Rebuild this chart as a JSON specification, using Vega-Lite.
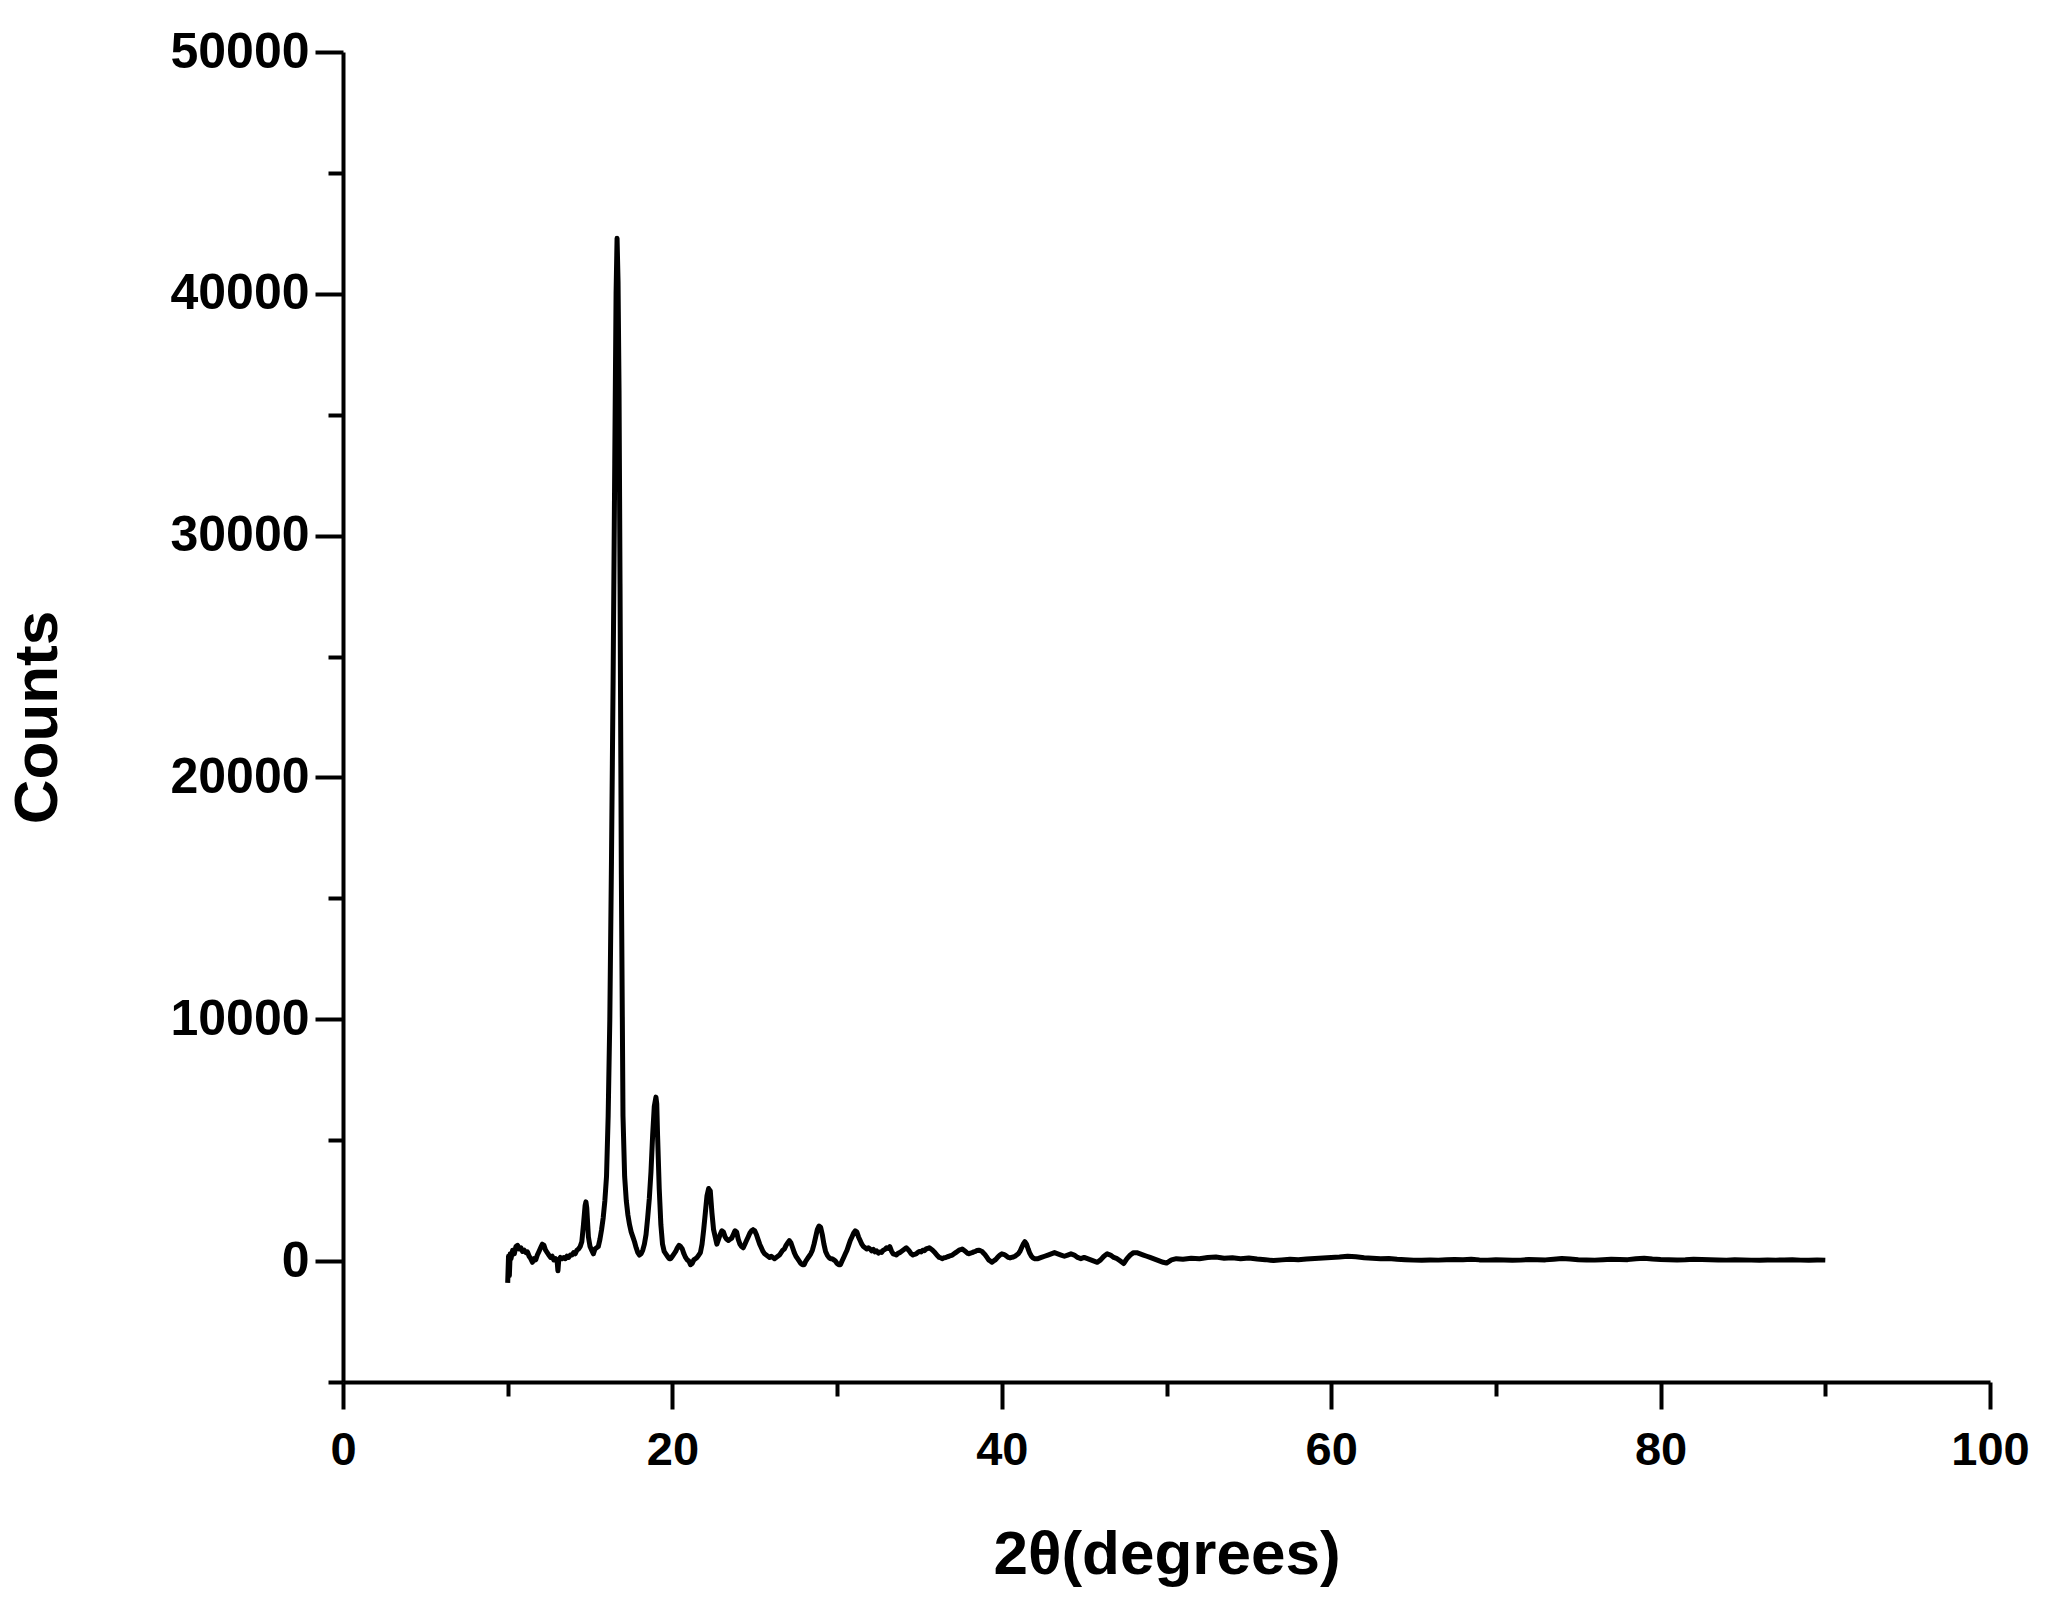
{
  "$schema": "https://vega.github.io/schema/vega-lite/v6.json",
  "autosize": "none",
  "width": 1647,
  "height": 1330,
  "padding": {"left": 343, "top": 52, "right": 61, "bottom": 217},
  "background": "white",
  "config": {"view": {"stroke": null}},
  "data": {"values": [
    {"t":10.0,"c":-900},{"t":10.05,"c":200},{"t":10.1,"c":-600},{"t":10.15,"c":300},{"t":10.2,"c":100},{"t":10.3,"c":450},{"t":10.4,"c":300},{"t":10.5,"c":600},{"t":10.6,"c":650},{"t":10.7,"c":500},{"t":10.8,"c":550},{"t":10.9,"c":400},
    {"t":11.0,"c":450},{"t":11.1,"c":350},{"t":11.2,"c":380},{"t":11.3,"c":200},{"t":11.4,"c":100},{"t":11.5,"c":-50},{"t":11.6,"c":100},{"t":11.7,"c":50},{"t":11.8,"c":250},{"t":11.9,"c":400},
    {"t":12.0,"c":550},{"t":12.1,"c":700},{"t":12.2,"c":650},{"t":12.3,"c":450},{"t":12.4,"c":350},{"t":12.5,"c":250},{"t":12.6,"c":150},{"t":12.7,"c":200},{"t":12.8,"c":50},{"t":12.9,"c":100},
    {"t":13.0,"c":0},{"t":13.05,"c":-400},{"t":13.1,"c":50},{"t":13.2,"c":150},{"t":13.3,"c":100},{"t":13.4,"c":150},{"t":13.5,"c":100},{"t":13.6,"c":200},{"t":13.7,"c":150},{"t":13.8,"c":250},{"t":13.9,"c":250},
    {"t":14.0,"c":350},{"t":14.1,"c":300},{"t":14.2,"c":450},{"t":14.3,"c":500},{"t":14.4,"c":600},{"t":14.5,"c":800},{"t":14.6,"c":1500},{"t":14.7,"c":2300},{"t":14.75,"c":2450},{"t":14.8,"c":2200},{"t":14.9,"c":1000},
    {"t":15.0,"c":600},{"t":15.1,"c":450},{"t":15.2,"c":300},{"t":15.3,"c":500},{"t":15.4,"c":550},{"t":15.5,"c":600},{"t":15.6,"c":900},{"t":15.7,"c":1300},{"t":15.8,"c":1800},{"t":15.9,"c":2500},
    {"t":16.0,"c":3500},{"t":16.1,"c":6000},{"t":16.2,"c":10000},{"t":16.3,"c":16500},{"t":16.4,"c":24000},{"t":16.5,"c":33000},{"t":16.58,"c":40000},{"t":16.64,"c":42300},{"t":16.7,"c":40500},{"t":16.76,"c":36000},{"t":16.82,"c":28000},{"t":16.9,"c":16000},
    {"t":17.0,"c":6000},{"t":17.1,"c":3500},{"t":17.2,"c":2500},{"t":17.3,"c":1900},{"t":17.4,"c":1500},{"t":17.5,"c":1200},{"t":17.6,"c":1000},{"t":17.7,"c":800},{"t":17.8,"c":550},{"t":17.9,"c":350},
    {"t":18.0,"c":250},{"t":18.1,"c":300},{"t":18.2,"c":450},{"t":18.3,"c":700},{"t":18.4,"c":1100},{"t":18.5,"c":1800},{"t":18.6,"c":2600},{"t":18.7,"c":3700},{"t":18.8,"c":5200},{"t":18.9,"c":6400},
    {"t":19.0,"c":6780},{"t":19.05,"c":6500},{"t":19.1,"c":5200},{"t":19.2,"c":3000},{"t":19.3,"c":1500},{"t":19.4,"c":700},{"t":19.5,"c":400},{"t":19.6,"c":300},{"t":19.7,"c":200},{"t":19.8,"c":100},{"t":19.9,"c":100},
    {"t":20.0,"c":200},{"t":20.1,"c":300},{"t":20.2,"c":400},{"t":20.3,"c":550},{"t":20.4,"c":650},{"t":20.5,"c":600},{"t":20.6,"c":500},{"t":20.7,"c":300},{"t":20.8,"c":150},{"t":20.9,"c":50},
    {"t":21.0,"c":0},{"t":21.1,"c":-150},{"t":21.2,"c":-100},{"t":21.3,"c":50},{"t":21.4,"c":100},{"t":21.5,"c":150},{"t":21.6,"c":250},{"t":21.7,"c":350},{"t":21.8,"c":700},{"t":21.9,"c":1300},
    {"t":22.0,"c":2000},{"t":22.1,"c":2700},{"t":22.2,"c":3000},{"t":22.3,"c":2900},{"t":22.4,"c":2000},{"t":22.5,"c":1300},{"t":22.6,"c":1000},{"t":22.7,"c":700},{"t":22.8,"c":900},{"t":22.9,"c":1100},
    {"t":23.0,"c":1250},{"t":23.1,"c":1200},{"t":23.2,"c":1000},{"t":23.3,"c":900},{"t":23.4,"c":850},{"t":23.5,"c":900},{"t":23.6,"c":950},{"t":23.7,"c":1100},{"t":23.8,"c":1250},{"t":23.9,"c":1200},
    {"t":24.0,"c":900},{"t":24.1,"c":700},{"t":24.2,"c":600},{"t":24.3,"c":550},{"t":24.4,"c":700},{"t":24.5,"c":850},{"t":24.6,"c":1000},{"t":24.7,"c":1150},{"t":24.8,"c":1250},{"t":24.9,"c":1300},
    {"t":25.0,"c":1250},{"t":25.1,"c":1100},{"t":25.2,"c":900},{"t":25.3,"c":700},{"t":25.4,"c":550},{"t":25.5,"c":400},{"t":25.6,"c":300},{"t":25.7,"c":250},{"t":25.8,"c":200},{"t":25.9,"c":150},
    {"t":26.0,"c":200},{"t":26.1,"c":150},{"t":26.2,"c":100},{"t":26.3,"c":150},{"t":26.4,"c":200},{"t":26.5,"c":250},{"t":26.6,"c":350},{"t":26.7,"c":450},{"t":26.8,"c":500},{"t":26.9,"c":650},
    {"t":27.0,"c":750},{"t":27.1,"c":850},{"t":27.2,"c":750},{"t":27.3,"c":550},{"t":27.4,"c":350},{"t":27.5,"c":200},{"t":27.6,"c":100},{"t":27.7,"c":0},{"t":27.8,"c":-100},{"t":27.9,"c":-150},
    {"t":28.0,"c":-150},{"t":28.1,"c":0},{"t":28.2,"c":100},{"t":28.3,"c":200},{"t":28.4,"c":300},{"t":28.5,"c":450},{"t":28.6,"c":700},{"t":28.7,"c":1000},{"t":28.8,"c":1300},{"t":28.9,"c":1450},
    {"t":29.0,"c":1400},{"t":29.1,"c":1100},{"t":29.2,"c":700},{"t":29.3,"c":400},{"t":29.4,"c":250},{"t":29.5,"c":150},{"t":29.6,"c":100},{"t":29.7,"c":100},{"t":29.8,"c":50},{"t":29.9,"c":0},
    {"t":30.0,"c":-100},{"t":30.1,"c":-150},{"t":30.2,"c":-150},{"t":30.3,"c":0},{"t":30.4,"c":150},{"t":30.5,"c":300},{"t":30.6,"c":450},{"t":30.7,"c":650},{"t":30.8,"c":850},{"t":30.9,"c":1000},
    {"t":31.0,"c":1150},{"t":31.1,"c":1250},{"t":31.2,"c":1200},{"t":31.3,"c":1000},{"t":31.4,"c":850},{"t":31.5,"c":700},{"t":31.6,"c":600},{"t":31.7,"c":550},{"t":31.8,"c":500},{"t":31.9,"c":550},
    {"t":32.0,"c":500},{"t":32.1,"c":420},{"t":32.2,"c":480},{"t":32.3,"c":380},{"t":32.4,"c":420},{"t":32.5,"c":330},{"t":32.6,"c":380},{"t":32.7,"c":360},{"t":32.8,"c":450},{"t":32.9,"c":480},{"t":33.0,"c":550},{"t":33.1,"c":520},{"t":33.2,"c":600},{"t":33.3,"c":420},{"t":33.4,"c":300},{"t":33.5,"c":280},{"t":33.6,"c":250},{"t":33.7,"c":320},{"t":33.8,"c":350},{"t":33.9,"c":400},
    {"t":34.0,"c":450},{"t":34.1,"c":500},{"t":34.2,"c":550},{"t":34.3,"c":480},{"t":34.4,"c":400},{"t":34.5,"c":300},{"t":34.6,"c":250},{"t":34.7,"c":280},{"t":34.8,"c":300},{"t":34.9,"c":360},{"t":35.0,"c":400},{"t":35.1,"c":380},{"t":35.2,"c":450},{"t":35.3,"c":430},{"t":35.4,"c":500},{"t":35.5,"c":520},{"t":35.6,"c":550},{"t":35.7,"c":500},{"t":35.8,"c":450},{"t":35.9,"c":380},
    {"t":36.0,"c":300},{"t":36.1,"c":220},{"t":36.2,"c":150},{"t":36.3,"c":130},{"t":36.4,"c":100},{"t":36.5,"c":140},{"t":36.6,"c":150},{"t":36.7,"c":180},{"t":36.8,"c":200},{"t":36.9,"c":230},{"t":37.0,"c":250},{"t":37.1,"c":300},{"t":37.2,"c":350},{"t":37.3,"c":400},{"t":37.4,"c":450},{"t":37.5,"c":470},{"t":37.6,"c":500},{"t":37.7,"c":450},{"t":37.8,"c":400},{"t":37.9,"c":330},
    {"t":38.0,"c":300},{"t":38.1,"c":330},{"t":38.2,"c":350},{"t":38.3,"c":380},{"t":38.4,"c":400},{"t":38.5,"c":440},{"t":38.6,"c":450},{"t":38.7,"c":430},{"t":38.8,"c":400},{"t":38.9,"c":320},{"t":39.0,"c":250},{"t":39.1,"c":150},{"t":39.2,"c":50},{"t":39.3,"c":0},{"t":39.4,"c":-50},{"t":39.5,"c":0},{"t":39.6,"c":50},{"t":39.7,"c":120},{"t":39.8,"c":200},{"t":39.9,"c":260},
    {"t":40.0,"c":300},{"t":40.1,"c":280},{"t":40.2,"c":250},{"t":40.3,"c":200},{"t":40.4,"c":150},{"t":40.5,"c":130},{"t":40.6,"c":150},{"t":40.7,"c":170},{"t":40.8,"c":200},{"t":40.9,"c":250},{"t":41.0,"c":300},{"t":41.1,"c":400},{"t":41.2,"c":550},{"t":41.3,"c":700},{"t":41.4,"c":800},{"t":41.5,"c":700},{"t":41.6,"c":500},{"t":41.7,"c":320},{"t":41.8,"c":200},{"t":41.9,"c":130},
    {"t":42.0,"c":100},{"t":42.2,"c":100},{"t":42.4,"c":150},{"t":42.6,"c":200},{"t":42.8,"c":250},{"t":43.0,"c":300},{"t":43.2,"c":350},{"t":43.4,"c":300},{"t":43.6,"c":250},{"t":43.8,"c":200},
    {"t":44.0,"c":250},{"t":44.2,"c":300},{"t":44.4,"c":250},{"t":44.6,"c":150},{"t":44.8,"c":100},{"t":45.0,"c":150},{"t":45.2,"c":100},{"t":45.4,"c":50},{"t":45.6,"c":0},{"t":45.8,"c":-50},
    {"t":46.0,"c":50},{"t":46.2,"c":200},{"t":46.4,"c":300},{"t":46.6,"c":250},{"t":46.8,"c":150},{"t":47.0,"c":100},{"t":47.2,"c":0},{"t":47.4,"c":-100},{"t":47.6,"c":100},{"t":47.8,"c":250},
    {"t":48.0,"c":350},{"t":48.2,"c":350},{"t":48.4,"c":300},{"t":48.6,"c":250},{"t":48.8,"c":200},{"t":49.0,"c":150},{"t":49.2,"c":100},{"t":49.4,"c":50},{"t":49.6,"c":0},{"t":49.8,"c":-50},
    {"t":50.0,"c":-80},{"t":50.3,"c":50},{"t":50.6,"c":100},{"t":51.0,"c":80},{"t":51.5,"c":120},{"t":52.0,"c":100},{"t":52.5,"c":150},{"t":53.0,"c":170},{"t":53.5,"c":120},{"t":54.0,"c":140},{"t":54.5,"c":100},
    {"t":55.0,"c":130},{"t":55.5,"c":90},{"t":56.0,"c":60},{"t":56.5,"c":20},{"t":57.0,"c":50},{"t":57.5,"c":80},{"t":58.0,"c":60},{"t":58.5,"c":90},{"t":59.0,"c":110},{"t":59.5,"c":130},
    {"t":60.0,"c":150},{"t":60.5,"c":170},{"t":61.0,"c":200},{"t":61.5,"c":180},{"t":62.0,"c":140},{"t":62.5,"c":120},{"t":63.0,"c":100},{"t":63.5,"c":110},{"t":64.0,"c":80},{"t":64.5,"c":60},
    {"t":65.0,"c":40},{"t":65.5,"c":30},{"t":66.0,"c":50},{"t":66.5,"c":40},{"t":67.0,"c":60},{"t":67.5,"c":70},{"t":68.0,"c":60},{"t":68.5,"c":80},{"t":69.0,"c":50},{"t":69.5,"c":40},
    {"t":70.0,"c":60},{"t":70.5,"c":50},{"t":71.0,"c":30},{"t":71.5,"c":40},{"t":72.0,"c":70},{"t":72.5,"c":60},{"t":73.0,"c":50},{"t":73.5,"c":80},{"t":74.0,"c":110},{"t":74.5,"c":90},
    {"t":75.0,"c":60},{"t":75.5,"c":50},{"t":76.0,"c":40},{"t":76.5,"c":60},{"t":77.0,"c":80},{"t":77.5,"c":70},{"t":78.0,"c":60},{"t":78.5,"c":100},{"t":79.0,"c":120},{"t":79.5,"c":90},
    {"t":80.0,"c":70},{"t":80.5,"c":60},{"t":81.0,"c":50},{"t":81.5,"c":60},{"t":82.0,"c":80},{"t":82.5,"c":70},{"t":83.0,"c":60},{"t":83.5,"c":50},{"t":84.0,"c":40},{"t":84.5,"c":60},
    {"t":85.0,"c":50},{"t":85.5,"c":40},{"t":86.0,"c":30},{"t":86.5,"c":50},{"t":87.0,"c":40},{"t":87.5,"c":50},{"t":88.0,"c":60},{"t":88.5,"c":40},{"t":89.0,"c":30},{"t":89.5,"c":50},{"t":90.0,"c":40}
  ]},
  "mark": {"type": "line", "color": "black", "strokeWidth": 5, "strokeJoin": "round", "clip": true},
  "encoding": {
    "x": {
      "field": "t", "type": "quantitative",
      "scale": {"domain": [0, 100], "nice": false, "zero": false},
      "axis": {
        "values": [0, 10, 20, 30, 40, 50, 60, 70, 80, 90, 100],
        "labelExpr": "datum.value % 20 === 0 ? datum.label : ''",
        "grid": false,
        "domainColor": "black", "domainWidth": 4,
        "tickColor": "black", "tickWidth": 4,
        "tickSize": {"condition": {"test": "datum.value % 20 === 0", "value": 27}, "value": 14},
        "labelFont": "Liberation Sans", "labelFontWeight": "bold", "labelFontSize": 47, "labelColor": "black",
        "labelPadding": 18, "labelFlush": false, "labelOverlap": false,
        "title": "2θ(degrees)",
        "titleFont": "Liberation Sans", "titleFontWeight": "bold", "titleFontSize": 62, "titleColor": "black",
        "titlePadding": 51
      }
    },
    "y": {
      "field": "c", "type": "quantitative",
      "scale": {"domain": [-5000, 50000], "nice": false, "zero": false},
      "axis": {
        "values": [-5000, 0, 5000, 10000, 15000, 20000, 25000, 30000, 35000, 40000, 45000, 50000],
        "format": "d",
        "labelExpr": "datum.value % 10000 === 0 ? datum.label : ''",
        "grid": false,
        "domainColor": "black", "domainWidth": 4,
        "tickColor": "black", "tickWidth": 4,
        "tickSize": {"condition": {"test": "datum.value % 10000 === 0", "value": 28}, "value": 15},
        "labelFont": "Liberation Sans", "labelFontWeight": "bold", "labelFontSize": 50, "labelColor": "black",
        "labelPadding": 6, "labelFlush": false, "labelOverlap": false,
        "title": "Counts",
        "titleFont": "Liberation Sans", "titleFontWeight": "bold", "titleFontSize": 62, "titleColor": "black",
        "titlePadding": 100
      }
    }
  }
}
